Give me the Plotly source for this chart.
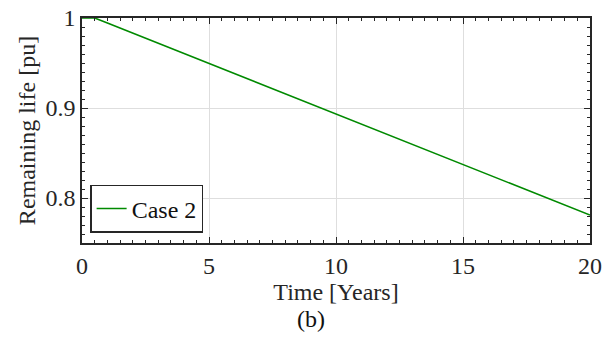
import plotly.graph_objects as go

years = [0, 0.5, 1, 2, 3, 4, 5, 6, 7, 8, 9, 10, 11, 12, 13, 14, 15, 16, 17, 18, 19, 20]
remaining_life = [1.000, 1.000, 0.9944, 0.9832, 0.9719, 0.9607, 0.9495, 0.9382, 0.9270,
                  0.9158, 0.9045, 0.8933, 0.8821, 0.8708, 0.8596, 0.8484, 0.8371,
                  0.8259, 0.8147, 0.8034, 0.7922, 0.781]
series_name = "Case 2"
x_ticks = [0, 5, 10, 15, 20]
y_ticks = [0.8, 0.9, 1.0]
y_tick_text = ["0.8", "0.9", "1"]

FONT = "Liberation Serif, Times New Roman, serif"
FS = 24

fig = go.Figure()
fig.add_trace(go.Scatter(x=years, y=remaining_life, mode="lines", name=series_name,
                         line=dict(color="#008a00", width=1.6)))

axis_common = dict(
    showline=True, linecolor="#262626", linewidth=1.5, mirror="ticks",
    ticks="inside", ticklen=6, tickwidth=1.3, tickcolor="#262626",
    showgrid=True, gridcolor="#dedede", gridwidth=1,
    zeroline=False, automargin=False, ticklabeloverflow="allow",
    tickfont=dict(family=FONT, size=FS, color="#262626"),
    title_font=dict(family=FONT, size=FS, color="#262626"),
)

fig.update_xaxes(range=[0, 20], tickvals=x_ticks, title_text="Time [Years]", title_standoff=0,
                 minor=dict(dtick=0.5, ticks="inside", ticklen=3.5, tickwidth=1.2,
                            tickcolor="#262626", showgrid=False),
                 **axis_common)
fig.update_yaxes(range=[0.75, 1.0], tickvals=y_ticks, ticktext=y_tick_text,
                 title_text="Remaining life [pu]", title_standoff=3,
                 minor=dict(dtick=0.01, ticks="inside", ticklen=3.5, tickwidth=1.2,
                            tickcolor="#262626", showgrid=False),
                 **axis_common)

fig.update_layout(
    width=610, height=337,
    margin=dict(l=82, r=20, t=18, b=94),
    plot_bgcolor="white", paper_bgcolor="white",
    showlegend=True,
    legend=dict(x=0.016, y=0.045, xanchor="left", yanchor="bottom",
                bgcolor="white", bordercolor="#262626", borderwidth=1.5,
                font=dict(family=FONT, size=FS, color="#111111"),
                itemwidth=30, tracegroupgap=0),
    annotations=[dict(text="(b)", xref="paper", yref="paper", x=0.451, y=-0.338,
                      xanchor="center", yanchor="middle", showarrow=False,
                      font=dict(family=FONT, size=FS, color="#111111"))],
)

fig.write_html("out.html", config={"displayModeBar": False},
               post_script="document.body.style.margin='0';")
